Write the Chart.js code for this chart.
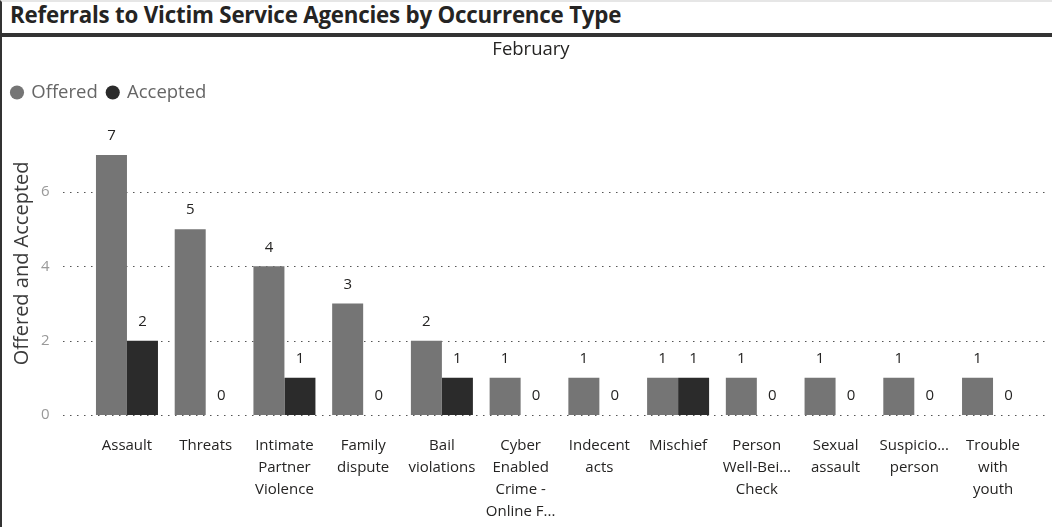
<!DOCTYPE html>
<html lang="en">
<head>
    <meta charset="UTF-8">
    <title>Referrals to Victim Service Agencies by Occurrence Type</title>
    <script src="https://cdn.jsdelivr.net/npm/chart.js"></script>
    <style>
        html, body {
            margin: 0;
            padding: 0;
            background: #fff;
            width: 1052px;
            height: 527px;
            overflow: hidden;
            font-family: "Open Sans", "Noto Sans", sans-serif;
        }
        #header {
            position: absolute;
            left: 0; top: 0;
            width: 1050px;
            height: 31px;
            border-top: 2px solid #e6e6e6;
            border-left: 2px solid #333;
            border-bottom: 2px solid #333;
        }
        #header h1 {
            margin: 0;
            padding-left: 8px;
            font-size: 22.3px;
            line-height: 26px;
            font-weight: 700;
            color: #252423;
            letter-spacing: -0.2px;
        }
        #chartBox {
            position: absolute;
            left: 0; top: 35px;
            width: 1050px;
            height: 490px;
            border-top: 2px solid #333;
            border-left: 2px solid #333;
        }
        #month {
            position: absolute;
            left: 0; top: 37px;
            width: 1062px;
            text-align: center;
            font-size: 18.5px;
            line-height: 22px;
            color: #252423;
        }
        canvas { display: block; }
    </style>
</head>
<body>

<div id="header"><h1>Referrals to Victim Service Agencies by Occurrence Type</h1></div>
<div id="chartBox">
    <canvas id="referralChart" width="1050" height="490"></canvas>
</div>
<div id="month">February</div>

<script>
    const categories = [
        ['Assault'],
        ['Threats'],
        ['Intimate', 'Partner', 'Violence'],
        ['Family', 'dispute'],
        ['Bail', 'violations'],
        ['Cyber', 'Enabled', 'Crime -', 'Online F...'],
        ['Indecent', 'acts'],
        ['Mischief'],
        ['Person', 'Well-Bei...', 'Check'],
        ['Sexual', 'assault'],
        ['Suspicio...', 'person'],
        ['Trouble', 'with', 'youth']
    ];
    const offered  = [7, 5, 4, 3, 2, 1, 1, 1, 1, 1, 1, 1];
    const accepted = [2, 0, 1, 0, 1, 0, 0, 1, 0, 0, 0, 0];
    const yTicks = [0, 2, 4, 6];

    const gridFrom = 61, gridTo = 1045;
    const fontFamily = '"Open Sans", "Noto Sans", sans-serif';

    // dotted gridlines that run wider than the plot, like Power BI
    const dottedGrid = {
        id: 'dottedGrid',
        beforeDatasetsDraw(chart) {
            const ctx = chart.ctx;
            const y = chart.scales.y;
            ctx.save();
            ctx.strokeStyle = '#555';
            ctx.lineWidth = 1.2;
            ctx.setLineDash([1.5, 5.5]);
            yTicks.forEach(v => {
                const py = Math.round(y.getPixelForValue(v)) + 0.5;
                ctx.beginPath();
                ctx.moveTo(gridFrom, py);
                ctx.lineTo(gridTo, py);
                ctx.stroke();
            });
            ctx.restore();
        }
    };

    const valueLabels = {
        id: 'valueLabels',
        afterDatasetsDraw(chart) {
            const ctx = chart.ctx;
            ctx.save();
            ctx.font = '15px ' + fontFamily;
            ctx.fillStyle = '#252423';
            ctx.textAlign = 'center';
            ctx.textBaseline = 'middle';
            chart.data.datasets.forEach((ds, i) => {
                chart.getDatasetMeta(i).data.forEach((bar, j) => {
                    ctx.fillText(ds.data[j], bar.x, bar.y - 19);
                });
            });
            ctx.restore();
        }
    };

    const ctx = document.getElementById('referralChart').getContext('2d');
    new Chart(ctx, {
        type: 'bar',
        data: {
            labels: categories,
            datasets: [
                { label: 'Offered', data: offered, backgroundColor: '#757575' },
                { label: 'Accepted', data: accepted, backgroundColor: '#2b2b2b' }
            ]
        },
        options: {
            responsive: false,
            animation: false,
            layout: { padding: { left: 0, right: 19.6, top: 36.3, bottom: 0 } },
            datasets: {
                bar: { categoryPercentage: 0.7875, barPercentage: 1.0 }
            },
            plugins: {
                title: { display: false },
                legend: {
                    display: true,
                    position: 'top',
                    align: 'start',
                    labels: {
                        usePointStyle: true,
                        pointStyle: 'circle',
                        boxWidth: 10,
                        boxHeight: 10,
                        padding: 10,
                        color: '#666',
                        font: { family: fontFamily, size: 18.5 }
                    }
                },
                tooltip: { enabled: false }
            },
            scales: {
                x: {
                    grid: { display: false, drawTicks: false },
                    border: { display: false },
                    ticks: {
                        color: '#252423',
                        padding: 20,
                        maxRotation: 0,
                        autoSkip: false,
                        font: { family: fontFamily, size: 15, lineHeight: 1.47 }
                    },
                    afterFit(scale) { scale.height = 112; }
                },
                y: {
                    min: 0,
                    max: 8.16,
                    grid: { display: false, drawTicks: false },
                    border: { display: false },
                    afterBuildTicks(scale) { scale.ticks = yTicks.map(v => ({ value: v })); },
                    ticks: {
                        color: '#999',
                        padding: 38,
                        font: { family: fontFamily, size: 15 }
                    },
                    title: {
                        display: true,
                        text: 'Offered and Accepted',
                        color: '#3a3a3a',
                        padding: { top: 8, bottom: 0 },
                        font: { family: fontFamily, size: 20 }
                    },
                    afterFit(scale) { scale.width = 85.6; }
                }
            }
        },
        plugins: [dottedGrid, valueLabels]
    });
</script>

</body>
</html>
